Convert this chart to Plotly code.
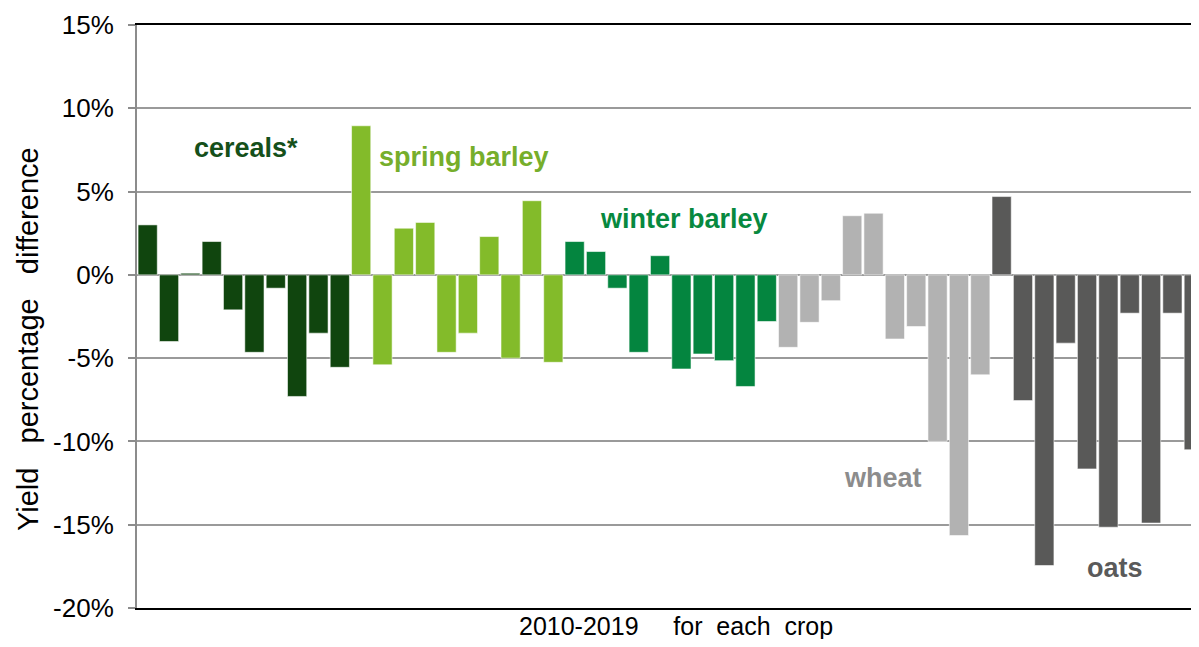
import plotly.graph_objects as go

years = [str(y) for y in range(2010, 2020)]
crops = ["cereals*", "spring barley", "winter barley", "wheat", "oats"]

cereals = [3.0, -4.0, 0.1, 2.0, -2.1, -4.65, -0.8, -7.3, -3.5, -5.55]
spring_barley = [8.95, -5.4, 2.8, 3.15, -4.65, -3.5, 2.3, -5.0, 4.45, -5.25]
winter_barley = [2.0, 1.4, -0.8, -4.65, 1.15, -5.65, -4.75, -5.15, -6.7, -2.8]
wheat = [-4.35, -2.85, -1.55, 3.55, 3.7, -3.85, -3.1, -10.0, -15.65, -6.0]
oats = [4.7, -7.55, -17.45, -4.1, -11.65, -15.15, -2.3, -14.9, -2.3, -10.5]

values = [cereals, spring_barley, winter_barley, wheat, oats]
bar_colors = ["#10450E", "#83BB2A", "#04853F", "#B2B2B2", "#595958"]
label_colors = ["#15501A", "#76AE2B", "#07893F", "#8C8C8C", "#5A5A5A"]

tick_vals = [-20, -15, -10, -5, 0, 5, 10, 15]
tick_text = ["-20%", "-15%", "-10%", "-5%", "0%", "5%", "10%", "15%"]

# label anchor positions (category index, value)
label_pos = [(4.6, 7.6, "center"), (10.76, 7.1, "left"), (25.13, 3.36, "center"),
             (34.43, -12.2, "center"), (45.31, -17.6, "center")]

fig = go.Figure()
for crop, vals, col in zip(crops, values, bar_colors):
    fig.add_trace(go.Bar(
        x=[f"{crop} {y}" for y in years],
        y=vals,
        marker=dict(color=col, line=dict(color="rgba(255,255,255,0.7)", width=0.8)),
        name=crop,
        showlegend=False,
    ))

FONT = "Liberation Sans, Arial, sans-serif"
NB = "\u00a0"

for (xi, yv, anc), crop, col in zip(label_pos, crops, label_colors):
    fig.add_annotation(x=xi, y=yv, xref="x", yref="y", text=f"<b>{crop}</b>",
                       showarrow=False, xanchor=anc, yanchor="middle",
                       font=dict(family=FONT, size=27, color=col))

fig.add_annotation(x=-0.104, y=0.462, xref="paper", yref="paper",
                   text=f"Yield{NB*3}percentage{NB*3}difference",
                   textangle=-90, showarrow=False, xanchor="center", yanchor="middle",
                   font=dict(family=FONT, size=29, color="#000000"))
fig.add_annotation(x=0.511, y=-0.031, xref="paper", yref="paper",
                   text=f"2010-2019{NB*5}for{NB*2}each{NB*2}crop",
                   showarrow=False, xanchor="center", yanchor="middle",
                   font=dict(family=FONT, size=25, color="#000000"))

fig.update_layout(
    width=1183, height=631,
    margin=dict(l=129, r=0, t=17, b=31),
    paper_bgcolor="white", plot_bgcolor="white",
    barmode="overlay", bargap=0.1,
    font=dict(family=FONT, size=24, color="#000000"),
)
fig.update_xaxes(
    type="category", range=[-0.5, 48.87], showticklabels=False, ticks="",
    showgrid=False, showline=True, linecolor="#000000", linewidth=2, mirror=True,
    zeroline=False,
)
fig.update_yaxes(
    range=[-20, 15], tickvals=tick_vals, ticktext=tick_text,
    showgrid=True, gridcolor="#9A9A9A", gridwidth=1.5,
    zeroline=True, zerolinecolor="#9A9A9A", zerolinewidth=1.5,
    showline=True, linecolor="#8C8C8C", linewidth=2,
    ticks="outside", ticklen=7, tickcolor="#8C8C8C", tickwidth=1.5,
    ticklabelstandoff=9,
    tickfont=dict(family=FONT, size=26, color="#000000"),
)

fig.write_html("out.html")
